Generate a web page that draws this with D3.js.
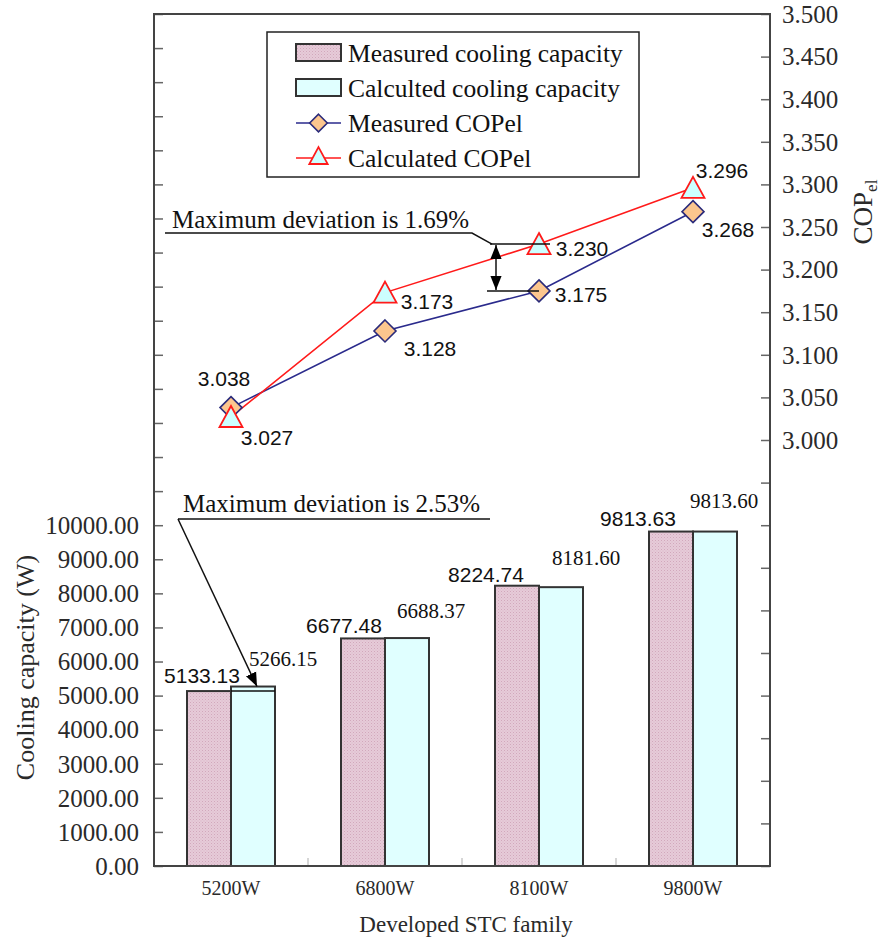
<!DOCTYPE html>
<html>
<head>
<meta charset="utf-8">
<script src="https://cdn.jsdelivr.net/npm/d3@7"></script>
<style>
  html, body { margin: 0; padding: 0; background: #fff; }
  svg { display: block; }
</style>
</head>
<body>
<div id="chart"></div>
<script>
// ---- data ----
const families = ["5200W", "6800W", "8100W", "9800W"];
const measuredCapacity = [5133.13, 6677.48, 8224.74, 9813.63];
const calculatedCapacity = [5266.15, 6688.37, 8181.60, 9813.60];
const measuredCOP = [3.038, 3.128, 3.175, 3.268];
const calculatedCOP = [3.027, 3.173, 3.230, 3.296];
const capacityTicks = d3.range(0, 25001, 1000);
const capacityTickLabels = d3.range(0, 10001, 1000);
const copTicks = d3.range(0, 21).map(i => 2.5 + i * 0.05);
const copTickLabels = [3.0, 3.05, 3.1, 3.15, 3.2, 3.25, 3.3, 3.35, 3.4, 3.45, 3.5];
const legendLabels = ["Measured cooling capacity", "Calculted cooling capacity", "Measured COPel", "Calculated COPel"];

// value-label nudges [dx, dy] from each mark
const measCapNudge = [[-29, -8], [-41, -5], [-53, -4], [-55, -6]];
const calcCapNudge = [[52, -21], [46, -20], [47, -22], [31, -24]];
const measCOPNudge = [[-7, -22], [45, 25], [42, 11], [35, 25]];
const calcCOPNudge = [[36, 28], [42, 16], [43, 12], [29, -10]];

// ---- layout ----
const W = 885, H = 937;
const L = 154, R = 770, T = 14, B = 866;
const SERIF = "'Liberation Serif', 'Times New Roman', serif";
const SANS = "'Liberation Sans', Arial, sans-serif";
const INK = "#2a2a2a";

const svg = d3.select("#chart").append("svg").attr("width", W).attr("height", H);

const defs = svg.append("defs");
const pat = defs.append("pattern").attr("id", "stipple")
  .attr("width", 3).attr("height", 3).attr("patternUnits", "userSpaceOnUse");
pat.append("rect").attr("width", 3).attr("height", 3).attr("fill", "#e6cbd8");
pat.append("rect").attr("x", 0).attr("y", 0).attr("width", 1).attr("height", 1).attr("fill", "#d2a7bc");
pat.append("rect").attr("x", 1.5).attr("y", 1.5).attr("width", 1).attr("height", 1).attr("fill", "#dbb6c8");
defs.append("marker").attr("id", "arrowHead").attr("viewBox", "0 0 10 10")
  .attr("refX", 10).attr("refY", 5).attr("markerWidth", 14).attr("markerHeight", 14)
  .attr("markerUnits", "userSpaceOnUse").attr("orient", "auto-start-reverse")
  .append("path").attr("d", "M0,1 L10,5 L0,9 Z").attr("fill", "#000");

// ---- scales ----
const x0 = d3.scaleBand().domain(families).range([L, R]).paddingInner(0).paddingOuter(0);
const series = ["measured", "calculated"];
const x1 = d3.scaleBand().domain(series).range([0, x0.bandwidth()]).paddingInner(0).paddingOuter(0.75);
const yCap = d3.scaleLinear().domain([0, 25000]).range([B, T]);
const yCop = d3.scaleLinear().domain([2.5, 3.5]).range([B, T]);
const cx = f => x0(f) + x0.bandwidth() / 2;

// ---- bars ----
const barData = families.map((f, i) => ({ f, i, measured: measuredCapacity[i], calculated: calculatedCapacity[i] }));
const groups = svg.append("g").selectAll("g").data(barData).join("g")
  .attr("transform", d => `translate(${x0(d.f)},0)`);
groups.selectAll("rect").data(d => series.map(s => ({ s, v: d[s] }))).join("rect")
  .attr("x", d => x1(d.s))
  .attr("y", d => yCap(d.v))
  .attr("width", x1.bandwidth())
  .attr("height", d => B - yCap(d.v))
  .attr("fill", d => d.s === "measured" ? "url(#stipple)" : "#e0ffff")
  .attr("stroke", "#333").attr("stroke-width", 2);

// ---- axes ----
const axisCol = "#444";
const leftAxis = svg.append("g").attr("transform", `translate(${L},0)`)
  .call(d3.axisRight(yCap).tickValues(capacityTicks).tickSize(9).tickFormat(""));
leftAxis.select(".domain").remove();
leftAxis.selectAll("line").attr("stroke", "#666").attr("stroke-width", 1.5);
svg.append("g").selectAll("text").data(capacityTickLabels).join("text")
  .attr("x", 139).attr("y", d => yCap(d)).attr("dy", "0.35em")
  .attr("text-anchor", "end").attr("font-family", SERIF).attr("font-size", 25).attr("fill", INK)
  .text(d => d3.format(".2f")(d));

const rightAxis = svg.append("g").attr("transform", `translate(${R},0)`)
  .call(d3.axisLeft(yCop).tickValues(copTicks).tickSize(9).tickFormat(""));
rightAxis.select(".domain").remove();
rightAxis.selectAll("line").attr("stroke", "#666").attr("stroke-width", 1.5);
svg.append("g").selectAll("text").data(copTickLabels).join("text")
  .attr("x", 782).attr("y", d => yCop(d)).attr("dy", "0.35em")
  .attr("text-anchor", "start").attr("font-family", SERIF).attr("font-size", 25).attr("fill", INK)
  .text(d => d3.format(".3f")(d));

// category separators on the base line
const bottomAxis = svg.append("g").attr("transform", `translate(0,${B})`)
  .call(d3.axisTop(x0).tickSize(0).tickFormat(""));
bottomAxis.select(".domain").remove();
svg.append("g").selectAll("line").data(families.slice(1)).join("line")
  .attr("x1", d => x0(d)).attr("x2", d => x0(d)).attr("y1", B).attr("y2", B - 8)
  .attr("stroke", "#bbb").attr("stroke-width", 1.2);
svg.append("g").selectAll("text").data(families).join("text")
  .attr("x", d => cx(d)).attr("y", 895).attr("text-anchor", "middle")
  .attr("font-family", SERIF).attr("font-size", 20).attr("fill", INK).text(d => d);

// frame
svg.append("rect").attr("x", L).attr("y", T).attr("width", R - L).attr("height", B - T)
  .attr("fill", "none").attr("stroke", axisCol).attr("stroke-width", 2);

// axis titles
svg.append("text").attr("transform", `translate(34,${(yCap(2500) + yCap(9500)) / 2 + 6}) rotate(-90)`)
  .attr("text-anchor", "middle").attr("font-family", SERIF).attr("font-size", 26).attr("fill", INK)
  .text("Cooling capacity (W)");
const copTitle = svg.append("text").attr("transform", `translate(872,212) rotate(-90)`)
  .attr("text-anchor", "middle").attr("font-family", SERIF).attr("font-size", 27).attr("fill", INK);
copTitle.append("tspan").text("COP");
copTitle.append("tspan").attr("font-size", 17).attr("dy", 5).text("el");
svg.append("text").attr("x", 466).attr("y", 932).attr("text-anchor", "middle")
  .attr("font-family", SERIF).attr("font-size", 23).attr("fill", INK).text("Developed STC family");

// ---- capacity value labels ----
svg.append("g").selectAll("text").data(barData).join("text")
  .attr("x", d => cx(d.f) + measCapNudge[d.i][0])
  .attr("y", d => yCap(d.measured) + measCapNudge[d.i][1])
  .attr("text-anchor", "middle").attr("font-family", SANS).attr("font-size", 21).attr("fill", "#111")
  .text(d => d3.format(".2f")(d.measured));
svg.append("g").selectAll("text").data(barData).join("text")
  .attr("x", d => cx(d.f) + calcCapNudge[d.i][0])
  .attr("y", d => yCap(d.calculated) + calcCapNudge[d.i][1])
  .attr("text-anchor", "middle").attr("font-family", SERIF).attr("font-size", 21).attr("fill", "#111")
  .text(d => d3.format(".2f")(d.calculated));

// ---- COP lines and markers ----
const copData = families.map((f, i) => ({ f, i, m: measuredCOP[i], c: calculatedCOP[i] }));
const line = key => d3.line().x(d => cx(d.f)).y(d => yCop(d[key]));
svg.append("path").datum(copData).attr("d", line("m")).attr("fill", "none")
  .attr("stroke", "#2a2a8c").attr("stroke-width", 1.6);
svg.append("path").datum(copData).attr("d", line("c")).attr("fill", "none")
  .attr("stroke", "#ff1a1a").attr("stroke-width", 1.6);

const diamond = "M0,-11 L11,0 L0,11 L-11,0 Z";
const triangle = "M0,-11 L11.5,10 L-11.5,10 Z";
svg.append("g").selectAll("path").data(copData).join("path")
  .attr("transform", d => `translate(${cx(d.f)},${yCop(d.m)})`)
  .attr("d", diamond).attr("fill", "#fcc68e").attr("stroke", "#2a2a7a").attr("stroke-width", 1.6);
svg.append("g").selectAll("path").data(copData).join("path")
  .attr("transform", d => `translate(${cx(d.f)},${yCop(d.c)})`)
  .attr("d", triangle).attr("fill", "#ccffff").attr("stroke", "#ff1a1a").attr("stroke-width", 1.8);

svg.append("g").selectAll("text").data(copData).join("text")
  .attr("x", d => cx(d.f) + measCOPNudge[d.i][0])
  .attr("y", d => yCop(d.m) + measCOPNudge[d.i][1])
  .attr("text-anchor", "middle").attr("font-family", SANS).attr("font-size", 21).attr("fill", "#111")
  .text(d => d3.format(".3f")(d.m));
svg.append("g").selectAll("text").data(copData).join("text")
  .attr("x", d => cx(d.f) + calcCOPNudge[d.i][0])
  .attr("y", d => yCop(d.c) + calcCOPNudge[d.i][1])
  .attr("text-anchor", "middle").attr("font-family", SANS).attr("font-size", 21).attr("fill", "#111")
  .text(d => d3.format(".3f")(d.c));

// ---- deviation callouts ----
const ann = svg.append("g").attr("fill", "none").attr("stroke", "#111").attr("stroke-width", 1.5);
// COP: largest gap at 8100W
const c8100 = cx("8100W");
const yHi = yCop(calculatedCOP[2]), yLo = yCop(measuredCOP[2]);
ann.append("line").attr("x1", c8100 - 49).attr("x2", c8100 + 11).attr("y1", yHi).attr("y2", yHi);
ann.append("line").attr("x1", c8100 - 52).attr("x2", c8100).attr("y1", yLo).attr("y2", yLo);
ann.append("line").attr("x1", c8100 - 43).attr("x2", c8100 - 43).attr("y1", yHi + 1).attr("y2", yLo - 1)
  .attr("marker-start", "url(#arrowHead)").attr("marker-end", "url(#arrowHead)");
ann.append("polyline").attr("points", `165,233 472,233 ${c8100 - 47},${yHi}`);
svg.append("text").attr("x", 172).attr("y", 228).attr("font-family", SERIF).attr("font-size", 25)
  .attr("fill", "#111").text("Maximum deviation is 1.69%");

// capacity: largest gap at 5200W
const c5200 = cx("5200W");
const calcLeft = x0("5200W") + x1("calculated");
ann.append("line").attr("x1", calcLeft).attr("x2", calcLeft + x1.bandwidth())
  .attr("y1", yCap(measuredCapacity[0])).attr("y2", yCap(measuredCapacity[0]));
ann.append("line").attr("x1", 178).attr("x2", 490).attr("y1", 519).attr("y2", 519);
ann.append("line").attr("x1", 178).attr("y1", 519).attr("x2", c5200 + 26).attr("y2", yCap(calculatedCapacity[0]))
  .attr("marker-end", "url(#arrowHead)");
svg.append("text").attr("x", 183).attr("y", 512).attr("font-family", SERIF).attr("font-size", 25)
  .attr("fill", "#111").text("Maximum deviation is 2.53%");

// ---- legend ----
const lg = svg.append("g");
lg.append("rect").attr("x", 267).attr("y", 32).attr("width", 372).attr("height", 145)
  .attr("fill", "#fff").attr("stroke", "#222").attr("stroke-width", 1.5);
const rowY = i => 62 + i * 35;
lg.selectAll("text").data(legendLabels).join("text")
  .attr("x", 348).attr("y", (d, i) => rowY(i)).attr("font-family", SERIF).attr("font-size", 25.5)
  .attr("fill", "#111").text(d => d);
lg.append("rect").attr("x", 296).attr("y", rowY(0) - 18).attr("width", 45).attr("height", 17)
  .attr("fill", "url(#stipple)").attr("stroke", "#333").attr("stroke-width", 2);
lg.append("rect").attr("x", 296).attr("y", rowY(1) - 18).attr("width", 45).attr("height", 17)
  .attr("fill", "#e0ffff").attr("stroke", "#333").attr("stroke-width", 2);
lg.append("line").attr("x1", 296).attr("x2", 341).attr("y1", rowY(2) - 9).attr("y2", rowY(2) - 9)
  .attr("stroke", "#2a2a8c").attr("stroke-width", 1.6);
lg.append("path").attr("transform", `translate(318.5,${rowY(2) - 9}) scale(0.8)`).attr("d", diamond)
  .attr("fill", "#fcc68e").attr("stroke", "#2a2a7a").attr("stroke-width", 2);
lg.append("line").attr("x1", 296).attr("x2", 341).attr("y1", rowY(3) - 9).attr("y2", rowY(3) - 9)
  .attr("stroke", "#ff1a1a").attr("stroke-width", 1.6);
lg.append("path").attr("transform", `translate(318.5,${rowY(3) - 11}) scale(0.8)`).attr("d", triangle)
  .attr("fill", "#ccffff").attr("stroke", "#ff1a1a").attr("stroke-width", 2.2);
</script>
</body>
</html>
